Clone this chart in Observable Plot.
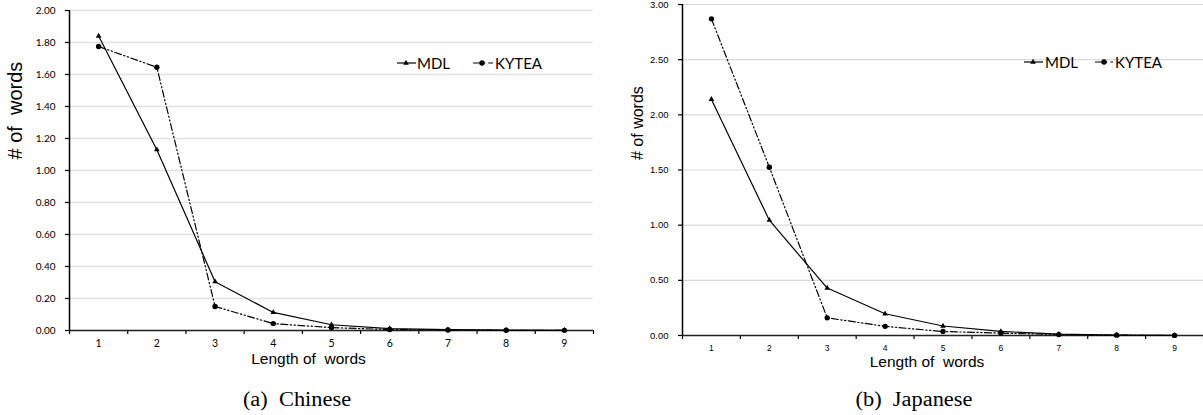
<!DOCTYPE html>
<html>
<head>
<meta charset="utf-8">
<script src="https://cdn.jsdelivr.net/npm/d3@7"></script>
<script src="https://cdn.jsdelivr.net/npm/@observablehq/plot@0.6"></script>
<style>
  html, body { margin: 0; padding: 0; background: #fff; }
  #root { position: relative; width: 1203px; height: 415px; background: #fff; overflow: hidden; }
  .abs { position: absolute; }
  .cap { position: absolute; font-family: "Liberation Serif", serif; font-size: 20px; color: #000; white-space: pre; transform: translate(-50%, -50%) scaleX(1.12); }
  .leg { position: absolute; font-family: Lato, sans-serif; font-size: 15px; color: #000; white-space: pre; transform: translateY(-50%); line-height: 1; }
  .legsym { position: absolute; overflow: visible; }
</style>
</head>
<body>
<div id="root">
  <div id="zh" class="abs" style="left:0;top:0"></div>
  <div id="ja" class="abs" style="left:600px;top:0"></div>
</div>
<script>
// ---------------- data ----------------
const lengths = [1, 2, 3, 4, 5, 6, 7, 8, 9];
const seriesNames = ["MDL", "KYTEA"];
const zhMDL   = [1.84, 1.13, 0.305, 0.113, 0.036, 0.012, 0.005, 0.002, 0.001];
const zhKYTEA = [1.775, 1.645, 0.15, 0.043, 0.018, 0.006, 0.003, 0.0015, 0.001];
const jaMDL   = [2.14, 1.045, 0.43, 0.197, 0.086, 0.037, 0.012, 0.004, 0.001];
const jaKYTEA = [2.87, 1.525, 0.16, 0.083, 0.036, 0.022, 0.008, 0.003, 0.001];
const zhYTicks = [0, 0.2, 0.4, 0.6, 0.8, 1.0, 1.2, 1.4, 1.6, 1.8, 2.0];
const jaYTicks = [0, 0.5, 1.0, 1.5, 2.0, 2.5, 3.0];
const xTitle = "Length of\u00a0 words";
const zhYTitle = "# of\u00a0 words";
const jaYTitle = "# of words";
const captions = ["(a)  Chinese", "(b)  Japanese"];

const KY_DASH = "7 2.5 1.3 2.5 1.3 2.5";

function rows(mdl, ky) {
  const out = [];
  lengths.forEach((len, i) => {
    out.push({len, value: mdl[i], series: seriesNames[0]});
    out.push({len, value: ky[i], series: seriesNames[1]});
  });
  return out;
}

const boundaries = d3.range(0.5, 10, 1);

function chart(cfg) {
  const data = rows(cfg.mdl, cfg.ky);
  const mdl = data.filter(d => d.series === "MDL");
  const ky = data.filter(d => d.series === "KYTEA");
  return Plot.plot({
    width: cfg.width,
    height: cfg.height,
    marginLeft: cfg.marginLeft,
    marginRight: cfg.marginRight,
    marginTop: cfg.marginTop,
    marginBottom: cfg.marginBottom,
    style: {background: "transparent", overflow: "visible", fontFamily: cfg.tickFont, color: "#000"},
    x: {type: "linear", domain: [0.5, 9.5]},
    y: {type: "linear", domain: cfg.yDomain},
    marks: [
      Plot.gridY({ticks: cfg.yTicks, stroke: cfg.gridColor, strokeOpacity: 1, strokeWidth: cfg.gridWidth}),
      Plot.axisY({ticks: cfg.yTicks, tickFormat: d => d.toFixed(2), tickSize: 4, tickPadding: 10,
        fontSize: cfg.yTickSize, fontFamily: cfg.tickFont, label: null, stroke: "#000", strokeWidth: 1.2}),
      Plot.axisX({ticks: lengths, tickSize: 0, tickPadding: cfg.xTickPad, tickFormat: d => String(d),
        fontSize: cfg.xTickSize, fontFamily: cfg.tickFont, label: null}),
      Plot.axisX({ticks: boundaries, tickSize: 4, tickFormat: () => "", label: null, stroke: "#000", strokeWidth: 1.2}),
      Plot.ruleX([0.5], {stroke: "#000", strokeWidth: 1.5}),
      Plot.ruleY([0], {stroke: "#222", strokeWidth: 1.6}),
      Plot.line(ky, {x: "len", y: "value", stroke: "#000", strokeWidth: 1.2, strokeDasharray: KY_DASH}),
      Plot.line(mdl, {x: "len", y: "value", stroke: "#000", strokeWidth: 1.2}),
      Plot.dot(mdl, {x: "len", y: "value", symbol: "triangle", r: 2.1, fill: "#000", stroke: "none"}),
      Plot.dot(ky, {x: "len", y: "value", symbol: "circle", r: cfg.dotR, fill: "#000", stroke: "none"}),
      Plot.text([xTitle], {text: d => d, frameAnchor: "bottom", dx: cfg.xTitleDx, dy: cfg.xTitleDy,
        fontSize: 15.5, fontFamily: "Liberation Sans", fill: "#000"}),
      Plot.text([cfg.yTitle], {text: d => d, frameAnchor: "left", rotate: -90, dx: cfg.yTitleDx, dy: cfg.yTitleDy,
        fontSize: cfg.yTitleSize, fontFamily: "Liberation Sans", fill: "#000"})
    ]
  });
}

document.getElementById("zh").appendChild(chart({
  width: 600, height: 370, marginLeft: 69, marginRight: 7, marginTop: 10, marginBottom: 40,
  mdl: zhMDL, ky: zhKYTEA, yDomain: [0, 2], yTicks: zhYTicks,
  gridColor: "#e3e3e3", gridWidth: 1.6, tickFont: "Lato", yTickSize: 10, xTickSize: 10.5, xTickPad: 9,
  dotR: 2.7, xTitleDx: -23, xTitleDy: 33, yTitle: zhYTitle, yTitleSize: 20, yTitleDx: -54, yTitleDy: -11
}));

document.getElementById("ja").appendChild(chart({
  width: 603, height: 375, marginLeft: 82, marginRight: 0, marginTop: 4, marginBottom: 40,
  mdl: jaMDL, ky: jaKYTEA, yDomain: [0, 3], yTicks: jaYTicks,
  gridColor: "#d9d9d9", gridWidth: 1.1, tickFont: "Liberation Sans", yTickSize: 9.5, xTickSize: 8.5, xTickPad: 9,
  dotR: 2.7, xTitleDx: -16, xTitleDy: 31, yTitle: jaYTitle, yTitleSize: 16, yTitleDx: -45, yTitleDy: -10
}));

// ---------------- captions ----------------
const root = document.getElementById("root");
[[297, 399], [914, 399]].forEach(([cx, cy], i) => {
  const d = document.createElement("div");
  d.className = "cap";
  d.style.left = cx + "px";
  d.style.top = cy + "px";
  d.textContent = captions[i];
  root.appendChild(d);
});

// ---------------- legends ----------------
function legendItem(x0, x1, mx, y, tx, name) {
  const ns = "http://www.w3.org/2000/svg";
  const svg = document.createElementNS(ns, "svg");
  svg.setAttribute("class", "legsym");
  svg.setAttribute("width", x1 - x0 + 4);
  svg.setAttribute("height", 10);
  svg.style.left = (x0 - 2) + "px";
  svg.style.top = (y - 5) + "px";
  const line = document.createElementNS(ns, "line");
  line.setAttribute("x1", 2); line.setAttribute("x2", x1 - x0 + 2);
  line.setAttribute("y1", 5); line.setAttribute("y2", 5);
  line.setAttribute("stroke", "#000"); line.setAttribute("stroke-width", 1.2);
  if (name === "KYTEA") line.setAttribute("stroke-dasharray", "9 2 1.3 3");
  svg.appendChild(line);
  const sym = document.createElementNS(ns, "path");
  const gen = d3.symbol(name === "MDL" ? d3.symbolTriangle : d3.symbolCircle, name === "MDL" ? Math.PI * 2.1 * 2.1 : Math.PI * 2.7 * 2.7);
  sym.setAttribute("d", gen());
  sym.setAttribute("transform", `translate(${mx - x0 + 2},5)`);
  sym.setAttribute("fill", "#000");
  svg.appendChild(sym);
  root.appendChild(svg);
  const t = document.createElement("div");
  t.className = "leg";
  t.style.left = tx + "px";
  t.style.top = y + "px";
  t.textContent = name;
  root.appendChild(t);
}
legendItem(397, 416, 406, 63, 417, seriesNames[0]);
legendItem(473, 493, 482, 63, 495, seriesNames[1]);
legendItem(1024, 1043, 1033, 62, 1045, seriesNames[0]);
legendItem(1095, 1113, 1104, 62, 1115, seriesNames[1]);
</script>
</body>
</html>
